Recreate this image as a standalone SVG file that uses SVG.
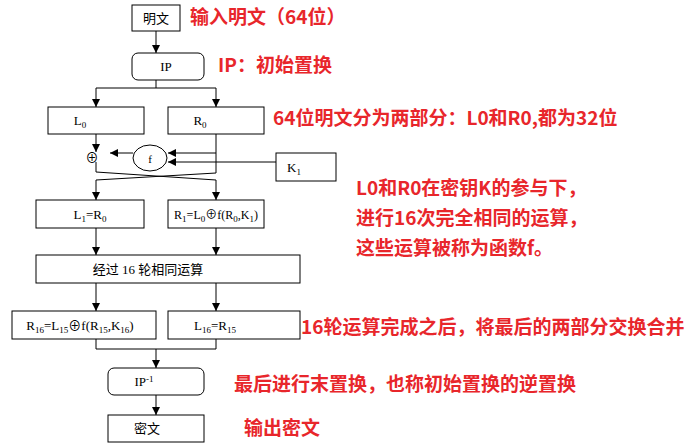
<svg xmlns="http://www.w3.org/2000/svg" width="699" height="445" viewBox="0 0 699 445">
<defs>
<marker id="a" viewBox="0 0 10 10" refX="10" refY="5" markerWidth="8" markerHeight="8" markerUnits="userSpaceOnUse" orient="auto"><path d="M0,0L10,5L0,10z" fill="#000"/></marker>
<style>
.b{fill:#fff;stroke:#000;stroke-width:1}
.l{fill:none;stroke:#000;stroke-width:1}
.t{font-family:"Liberation Serif","Noto Sans CJK SC",serif;font-size:13px;fill:#000;text-anchor:middle}
.r{font-family:"Noto Sans CJK SC","Noto Sans",sans-serif;font-size:19px;font-weight:bold;fill:#e8262b}
.s{font-size:9px}
</style>
</defs>
<rect width="699" height="445" fill="#fff"/>
<g id="connectors">
<path class="l" d="M156,31V53" marker-end="url(#a)"/>
<path class="l" d="M156,80V88M96,88H216"/>
<path class="l" d="M96,88V107" marker-end="url(#a)"/>
<path class="l" d="M216,88V107" marker-end="url(#a)"/>
<path class="l" d="M96,134V152" marker-end="url(#a)"/>
<path class="l" d="M216,134V173"/>
<path class="l" d="M216,153H168" marker-end="url(#a)"/>
<path class="l" d="M276,162H168" marker-end="url(#a)"/>
<path class="l" d="M133,153H110" marker-end="url(#a)"/>
<path class="l" d="M96,162V172L216,180M216,173L96,180"/>
<path class="l" d="M96,180V200" marker-end="url(#a)"/>
<path class="l" d="M216,180V200" marker-end="url(#a)"/>
<path class="l" d="M96,228V255" marker-end="url(#a)"/>
<path class="l" d="M216,228V255" marker-end="url(#a)"/>
<path class="l" d="M96,283V311" marker-end="url(#a)"/>
<path class="l" d="M216,283V311" marker-end="url(#a)"/>
<path class="l" d="M96,339V349H216V339"/>
<path class="l" d="M156,349V368" marker-end="url(#a)"/>
<path class="l" d="M156,395V415" marker-end="url(#a)"/>
</g>
<g id="n1"><rect class="b" x="132" y="5" width="48" height="26"/><text class="t" x="156" y="23">明文</text></g>
<g id="n2"><rect class="b" x="132" y="53" width="72" height="27" rx="6"/><text class="t" x="166" y="71">IP</text></g>
<g id="n3"><rect class="b" x="48" y="107" width="96" height="27"/><text class="t" x="80" y="125">L<tspan class="s" dy="3">0</tspan></text></g>
<g id="n4"><rect class="b" x="168" y="107" width="96" height="27"/><text class="t" x="200" y="125">R<tspan class="s" dy="3">0</tspan></text></g>
<g id="xor1"><text class="t" x="92" y="162">⊕</text></g>
<g id="f"><ellipse class="b" cx="150" cy="158" rx="17" ry="13"/><text class="t" x="150" y="163" style="font-size:11px">f</text></g>
<g id="k1"><rect class="b" x="276" y="153" width="60" height="28"/><text class="t" x="294" y="172">K<tspan class="s" dy="3">1</tspan></text></g>
<g id="n5"><rect class="b" x="36" y="200" width="108" height="28"/><text class="t" x="90" y="219">L<tspan class="s" dy="3">1</tspan><tspan dy="-3">=R</tspan><tspan class="s" dy="3">0</tspan></text></g>
<g id="n6"><rect class="b" x="168" y="200" width="96" height="28"/><text class="t" x="216" y="219" style="font-size:12px">R<tspan class="s" dy="3">1</tspan><tspan dy="-3">=L</tspan><tspan class="s" dy="3">0</tspan><tspan dy="-3">⊕f(R</tspan><tspan class="s" dy="3">0</tspan><tspan dy="-3">,K</tspan><tspan class="s" dy="3">1</tspan><tspan dy="-3">)</tspan></text></g>
<g id="n7"><rect class="b" x="36" y="255" width="264" height="28"/><text class="t" x="148" y="274">经过 16 轮相同运算</text></g>
<g id="n8"><rect class="b" x="12" y="311" width="144" height="28"/><text class="t" x="80" y="330">R<tspan class="s" dy="3">16</tspan><tspan dy="-3">=L</tspan><tspan class="s" dy="3">15</tspan><tspan dy="-3">⊕f(R</tspan><tspan class="s" dy="3">15</tspan><tspan dy="-3">,K</tspan><tspan class="s" dy="3">16</tspan><tspan dy="-3">)</tspan></text></g>
<g id="n9"><rect class="b" x="168" y="311" width="132" height="28"/><text class="t" x="215" y="330">L<tspan class="s" dy="3">16</tspan><tspan dy="-3">=R</tspan><tspan class="s" dy="3">15</tspan></text></g>
<g id="n10"><rect class="b" x="108" y="368" width="96" height="27" rx="6"/><text class="t" x="144" y="386">IP<tspan class="s" dy="-4">-1</tspan></text></g>
<g id="n11"><rect class="b" x="108" y="415" width="96" height="27"/><text class="t" x="147" y="433">密文</text></g>
<g id="notes">
<text class="r" x="190" y="24">输入明文（64位）</text>
<text class="r" x="218" y="72">IP：初始置换</text>
<text class="r" x="273" y="125">64位明文分为两部分：L0和R0,都为32位</text>
<text class="r" x="356" y="195">L0和R0在密钥K的参与下，</text>
<text class="r" x="356" y="225">进行16次完全相同的运算，</text>
<text class="r" x="356" y="255">这些运算被称为函数f。</text>
<text class="r" x="301" y="334">16轮运算完成之后，将最后的两部分交换合并</text>
<text class="r" x="234" y="391">最后进行末置换，也称初始置换的逆置换</text>
<text class="r" x="244" y="435">输出密文</text>
</g>
</svg>
